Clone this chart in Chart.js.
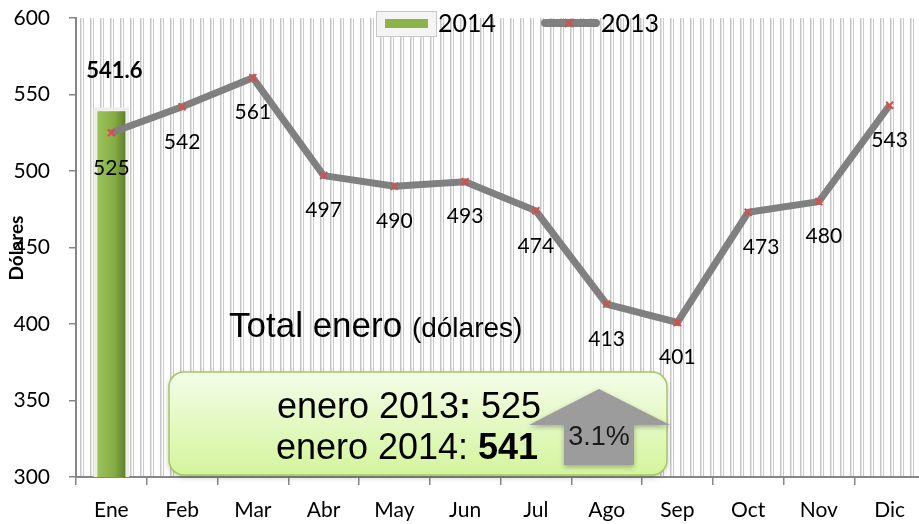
<!DOCTYPE html>
<html>
<head>
<meta charset="utf-8">
<script src="https://cdn.jsdelivr.net/npm/chart.js@4.4.1/dist/chart.umd.min.js"></script>
<style>
  html, body { margin: 0; padding: 0; background: #fff; overflow: hidden; }
  #wrap { width: 919px; height: 524px; overflow: hidden; position: relative; }
  canvas { display: block; }
</style>
</head>
<body>
<div id="wrap"><canvas id="myChart" width="932" height="524"></canvas></div>
<script>
// datos
var meses = ["Ene", "Feb", "Mar", "Abr", "May", "Jun", "Jul", "Ago", "Sep", "Oct", "Nov", "Dic"];
var datos2013 = [525, 542, 561, 497, 490, 493, 474, 413, 401, 473, 480, 543];
var datos2014 = [541.6, null, null, null, null, null, null, null, null, null, null, null];
var yTicks = [300, 350, 400, 450, 500, 550, 600];

document.addEventListener("DOMContentLoaded", function () {
  var ctx = document.getElementById("myChart").getContext("2d");

  // fondo con rayas verticales
  var tile = document.createElement("canvas");
  tile.width = 10; tile.height = 4;
  var t = tile.getContext("2d");
  t.fillStyle = "#fff"; t.fillRect(0, 0, 10, 4);
  t.fillStyle = "#c6c6c6"; t.fillRect(0, 0, 1, 4);
  t.fillStyle = "#e2e2e2"; t.fillRect(1, 0, 1, 4);
  t.fillStyle = "#cbcbcb"; t.fillRect(3, 0, 1, 4);
  var pattern = ctx.createPattern(tile, "repeat");

  var fondo = {
    id: "fondo",
    beforeDatasetsDraw: function (chart) {
      var a = chart.chartArea, c = chart.ctx;
      c.save();
      c.fillStyle = pattern;
      c.fillRect(a.left + 2, a.top, a.right - a.left, a.bottom - a.top - 1);
      c.restore();
    }
  };

  function crossRot(c, x, y, r) {
    c.beginPath();
    c.moveTo(x - r, y - r); c.lineTo(x + r, y + r);
    c.moveTo(x + r, y - r); c.lineTo(x - r, y + r);
    c.stroke();
  }

  var extras = {
    id: "extras",
    afterDatasetsDraw: function (chart) {
      var c = chart.ctx;
      c.save();
      // etiquetas de la linea
      var meta = chart.getDatasetMeta(1);
      var dx = { 9: 13, 10: 5 };
      c.fillStyle = "#000";
      c.font = "21px Lato";
      c.textAlign = "center";
      c.textBaseline = "middle";
      meta.data.forEach(function (p, i) {
        c.fillText(String(datos2013[i]), p.x + (dx[i] || 0), p.y + 35);
      });
      // etiqueta de la barra
      var bar = chart.getDatasetMeta(0).data[0];
      c.font = "bold 22px Lato";
      c.fillText("541.6", bar.x + 3, bar.y - 36);

      // titulo eje Y
      c.save();
      c.translate(17, 248);
      c.rotate(-Math.PI / 2);
      c.font = "bold 19px Lato";
      c.fillText("Dólares", 0, 0);
      c.restore();

      // texto central
      c.textAlign = "left";
      c.textBaseline = "alphabetic";
      c.font = "35px 'Liberation Sans'";
      c.fillText("Total enero", 229, 337);
      var w = c.measureText("Total enero ").width;
      c.font = "28px 'Liberation Sans'";
      c.fillText("(dólares)", 229 + w, 337);

      // cuadro
      c.save();
      c.shadowColor = "rgba(0,0,0,0.25)";
      c.shadowBlur = 6; c.shadowOffsetY = 2;
      var g = c.createLinearGradient(0, 372, 0, 476);
      g.addColorStop(0, "#f4fce8");
      g.addColorStop(1, "#d3f59c");
      c.fillStyle = g;
      c.beginPath();
      c.roundRect(169, 372, 498, 103, 15);
      c.fill();
      c.restore();
      c.strokeStyle = "#a6c864";
      c.lineWidth = 1.5;
      c.beginPath();
      c.roundRect(169, 372, 498, 103, 15);
      c.stroke();

      c.fillStyle = "#000";
      var fs = "36px 'Liberation Sans'", fb = "bold 36px 'Liberation Sans'";
      var l1a = "enero 2013", l1b = ":", l1c = " 525";
      c.font = fs;
      var wa = c.measureText(l1a).width, wc = c.measureText(l1c).width;
      c.font = fb;
      var wb = c.measureText(l1b).width;
      var x0 = 409 - (wa + wb + wc) / 2;
      c.font = fs;
      c.fillText(l1a, x0, 418);
      c.font = fb;
      c.fillText(l1b, x0 + wa, 418);
      c.font = fs;
      c.fillText(l1c, x0 + wa + wb, 418);

      var l2a = "enero 2014: ", l2b = "541";
      c.font = fs;
      var w2a = c.measureText(l2a).width;
      c.font = fb;
      var w2b = c.measureText(l2b).width;
      x0 = 407 - (w2a + w2b) / 2;
      c.font = fs;
      c.fillText(l2a, x0, 459);
      c.font = fb;
      c.fillText(l2b, x0 + w2a, 459);

      // flecha
      c.save();
      c.shadowColor = "rgba(0,0,0,0.3)";
      c.shadowBlur = 5; c.shadowOffsetY = 2;
      c.fillStyle = "#9c9c9c";
      c.beginPath();
      c.moveTo(599, 389);
      c.lineTo(670, 425);
      c.lineTo(634, 425);
      c.lineTo(634, 465);
      c.lineTo(564, 465);
      c.lineTo(564, 425);
      c.lineTo(529, 425);
      c.closePath();
      c.fill();
      c.restore();
      c.fillStyle = "#1a1a1a";
      c.font = "27px 'Liberation Sans'";
      c.textAlign = "center";
      c.textBaseline = "middle";
      c.fillText("3.1%", 599, 438);

      // leyenda
      c.fillStyle = "#f4f4f4";
      c.strokeStyle = "#c8c8c8";
      c.lineWidth = 1;
      c.fillRect(376, 11, 61, 26);
      c.strokeRect(376.5, 11.5, 60, 25);
      c.fillStyle = "#8cb44a";
      c.fillRect(385, 19, 43, 9);
      c.fillStyle = "#000";
      c.font = "25px Lato";
      c.textAlign = "left";
      c.fillText("2014", 438, 24);

      c.strokeStyle = "#808080";
      c.lineWidth = 8;
      c.lineCap = "round";
      c.beginPath();
      c.moveTo(545, 23); c.lineTo(596, 23);
      c.stroke();
      c.strokeStyle = "#d2504c";
      c.lineWidth = 2;
      c.lineCap = "butt";
      crossRot(c, 569, 23, 4);
      c.fillStyle = "#000";
      c.fillText("2013", 601, 24);
      c.restore();
    }
  };

  var data = {
    labels: meses,
    datasets: [
      {
        type: "bar",
        label: "2014",
        data: datos2014,
        order: 1,
        barPercentage: 0.51,
        categoryPercentage: 1,
        borderWidth: 4,
        borderColor: "#eceee8",
        borderSkipped: false,
        backgroundColor: function (context) {
          var area = context.chart.chartArea;
          if (!area) return "#86ad45";
          var cw = (area.right - area.left) / meses.length;
          var cx = area.left + cw / 2;
          var g = context.chart.ctx.createLinearGradient(cx - 14, 0, cx + 14, 0);
          g.addColorStop(0, "#9cc25a");
          g.addColorStop(0.6, "#86ad45");
          g.addColorStop(1, "#5f7f2c");
          return g;
        }
      },
      {
        type: "line",
        label: "2013",
        data: datos2013,
        order: 0,
        borderColor: "#808080",
        borderWidth: 7,
        tension: 0,
        pointStyle: "crossRot",
        pointRadius: 5,
        pointBorderColor: "#d2504c",
        pointBackgroundColor: "#d2504c",
        pointBorderWidth: 2,
        pointHoverRadius: 5
      }
    ]
  };

  var config = {
    type: "bar",
    data: data,
    plugins: [fondo, extras],
    options: {
      responsive: false,
      animation: false,
      events: [],
      layout: { padding: { top: 18, right: 2, left: 0, bottom: 0 } },
      plugins: { legend: { display: false }, tooltip: { enabled: false } },
      scales: {
        x: {
          grid: { offset: true, drawOnChartArea: false, tickLength: 8, color: "#868686", lineWidth: 1.5 },
          border: { color: "#868686", width: 2 },
          ticks: { color: "#000", font: { family: "Lato", size: 21 }, padding: 13 },
          afterFit: function (s) { s.height = 47; s.paddingTop = 0; s.paddingBottom = 0; }
        },
        y: {
          min: 300,
          max: 600,
          afterBuildTicks: function (s) { s.ticks = yTicks.map(function (v) { return { value: v }; }); },
          grid: { drawOnChartArea: false, tickLength: 7, color: "#868686", lineWidth: 1.5 },
          border: { color: "#868686", width: 2 },
          ticks: { color: "#000", font: { family: "Lato", size: 21 }, padding: 19 },
          afterFit: function (s) { s.width = 76; s.paddingTop = 0; s.paddingBottom = 0; }
        }
      }
    }
  };
  var myChart = new Chart(ctx, config);
});
</script>
</body>
</html>
